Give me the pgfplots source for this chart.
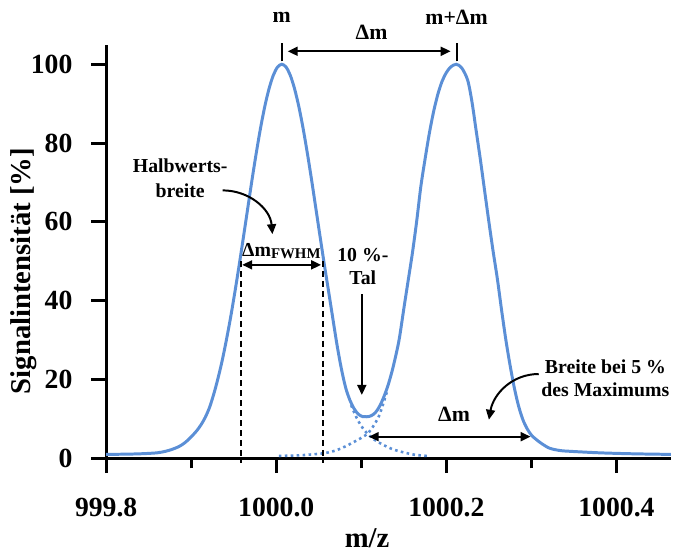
\documentclass[border=0pt]{standalone}
\usepackage{fontspec}
\setmainfont{Liberation Serif}
\usepackage{pgfplots}
\pgfplotsset{compat=1.18}
\usetikzlibrary{arrows.meta}
\definecolor{peakblue}{HTML}{5B8FD6}

\begin{document}
\begin{tikzpicture}[
  ann/.style={font=\bfseries\fontsize{10}{12}\selectfont},
  arr/.style={line width=1bp, -{Triangle[length=5bp,width=4.5bp]}},
  darr/.style={line width=1bp, {Triangle[length=5bp,width=4.5bp]}-{Triangle[length=5bp,width=4.5bp]}},
]
\begin{axis}[
    scale only axis,
    width=284.5bp, height=214bp,
    xmin=999.8, xmax=1000.464,
    ymin=-2.8, ymax=105,
    axis x line=middle, axis y line=left,
    axis line style={-, line width=1.5bp, black},
    hide obscured x ticks=false, hide obscured y ticks=false,
    xtick={999.8,1000.0,1000.2,1000.4},
    xticklabels={999.8,1000.0,1000.2,1000.4},
    minor xtick={999.9,1000.1,1000.3},
    ytick={0,20,40,60,80,100},
    yticklabels={0,20,40,60,80,100},
    tick align=outside,
    major tick length=7.5bp, minor tick length=5bp,
    every tick/.style={black, line width=1.5bp},
    ticklabel style={font=\bfseries\fontsize{14}{14}\selectfont},
    xticklabel style={yshift=-9bp},
    yticklabel style={xshift=-6bp},
    xlabel={m/z}, ylabel={Signalintensität [\%]},
    label style={font=\bfseries\fontsize{14.5}{14.5}\selectfont},
    xlabel style={at={(axis description cs:0.462,-0.162)}, anchor=center},
    ylabel style={at={(axis description cs:-0.146,0.467)}, anchor=center},
    clip=false,
]

% page margins of the reference
\path (axis description cs:-0.188,-0.189) (axis description cs:1,1.105);

% single peak components (dotted)
\addplot[peakblue, line width=1.3bp, dash pattern=on 1.3bp off 1.7bp, smooth] coordinates {
(1000.003,0.6) (1000.030,0.8) (1000.056,1.3) (1000.070,2.0) (1000.080,2.9)
(1000.090,4.0) (1000.100,5.2) (1000.108,6.4) (1000.116,8.8) (1000.122,11.4) (1000.130,16.8)
};
\addplot[peakblue, line width=1.3bp, dash pattern=on 1.3bp off 1.7bp, smooth] coordinates {
(1000.088,13.5) (1000.094,10.5) (1000.100,8.2) (1000.107,6.3) (1000.115,4.8)
(1000.125,3.5) (1000.137,2.3) (1000.150,1.5) (1000.163,0.9) (1000.178,0.6)
};

% measured signal
\addplot[peakblue, line width=1.5bp, smooth] coordinates {
(999.800,1.0) (999.820,1.05) (999.840,1.15) (999.860,1.4) (999.870,1.8)
(999.8765,2.2) (999.8815,2.6) (999.8865,3.1) (999.8915,3.8) (999.8965,4.7)
(999.9015,5.8) (999.9065,7.0) (999.9115,8.5) (999.9165,10.4) (999.9215,12.9)
(999.9265,16.3) (999.9315,20.3) (999.9365,24.9) (999.9415,30.2) (999.9465,36.0)
(999.9515,42.4) (999.9565,49.2) (999.9615,56.3) (999.9665,63.5) (999.9715,70.7)
(999.9765,77.5) (999.9815,83.8) (999.9865,89.3) (999.9915,93.8) (999.9965,97.2)
(1000.0015,99.3) (1000.0065,100) (1000.0115,99.3) (1000.0165,97.2) (1000.0215,93.8)
(1000.0265,89.3) (1000.0315,83.8) (1000.0365,77.5) (1000.0415,70.7) (1000.0465,63.5)
(1000.0515,56.3) (1000.0565,49.2) (1000.0615,42.4) (1000.0665,35.5) (1000.0715,28.7)
(1000.0765,22.8) (1000.0815,18.0) (1000.0865,14.8) (1000.0915,12.6) (1000.0965,11.2)
(1000.1015,10.6) (1000.1065,10.55) (1000.1115,10.8) (1000.1165,11.6) (1000.1215,13.2)
(1000.1265,15.6) (1000.1315,18.6) (1000.1365,22.4) (1000.1415,27.0) (1000.145,30.8)
(1000.150,38.0) (1000.155,45.0) (1000.160,52.0) (1000.165,60.0) (1000.170,69.0)
(1000.175,76.0) (1000.180,82.5) (1000.185,88.0) (1000.190,92.4) (1000.195,95.7)
(1000.200,97.9) (1000.205,99.3) (1000.2115,100) (1000.218,99.1) (1000.225,96.0)
(1000.230,90.6) (1000.235,83.2) (1000.240,75.8) (1000.2446,68.5) (1000.250,60.0)
(1000.255,52.5) (1000.260,45.5) (1000.265,37.5) (1000.270,30.0)
(1000.275,23.5) (1000.280,17.8) (1000.285,13.2) (1000.290,9.8) (1000.295,7.5)
(1000.300,5.9) (1000.305,4.9) (1000.311,3.9) (1000.321,2.6) (1000.333,2.0)
(1000.344,1.8) (1000.380,1.4) (1000.420,1.15) (1000.464,1.0)
};

% peak markers
\draw[line width=1bp] (axis cs:1000.0065,100.75) -- (axis cs:1000.0065,105.5);
\draw[line width=1bp] (axis cs:1000.2120,100.75) -- (axis cs:1000.2120,105.5);
\node[font=\bfseries\fontsize{11}{11}\selectfont] at (axis cs:1000.0065,111.8) {m};
\node[font=\bfseries\fontsize{11}{11}\selectfont] at (axis cs:1000.2120,111.8) {m+Δm};
\node[font=\bfseries\fontsize{11}{11}\selectfont] at (axis cs:1000.112,108) {Δm};
\draw[darr] (axis cs:1000.0135,103.3) -- (axis cs:1000.2050,103.3);

% FWHM
\draw[line width=1bp, dash pattern=on 3bp off 2bp] (axis cs:999.958,50) -- (axis cs:999.958,-1.2);
\draw[line width=1bp, dash pattern=on 3bp off 2bp] (axis cs:1000.055,50) -- (axis cs:1000.055,-1.2);
\draw[darr] (axis cs:999.960,49.1) -- (axis cs:1000.0527,49.1);
\node[ann] at (axis cs:1000.006,52.6) {Δm{\fontsize{7.5}{7.5}\selectfont\raisebox{-0.35ex}{FWHM}}};
\node[align=center, font=\bfseries\fontsize{10}{12.5}\selectfont] at (axis cs:999.887,71) {Halbwerts-\\breite};
\draw[arr] (axis cs:999.937,68) to[out=0, in=95] (axis cs:999.9955,56.9);

% valley
\node[align=center, font=\bfseries\fontsize{10}{11.5}\selectfont] at (axis cs:1000.1018,48.7) {10 \%-\\Tal};
\draw[arr] (axis cs:1000.1006,41.6) -- (axis cs:1000.1006,16.1);

% width at 5 %
\node[align=center, font=\bfseries\fontsize{10}{11.5}\selectfont] at (axis cs:1000.387,20.3) {Breite bei 5 \%\\des Maximums};
\draw[arr] (axis cs:1000.3086,21.4) to[out=180, in=80] (axis cs:1000.25,9.8);
\node[font=\bfseries\fontsize{11}{11}\selectfont] at (axis cs:1000.209,11.1) {Δm};
\draw[darr] (axis cs:1000.1088,5.5) -- (axis cs:1000.299,5.5);

\end{axis}
\end{tikzpicture}
\end{document}
